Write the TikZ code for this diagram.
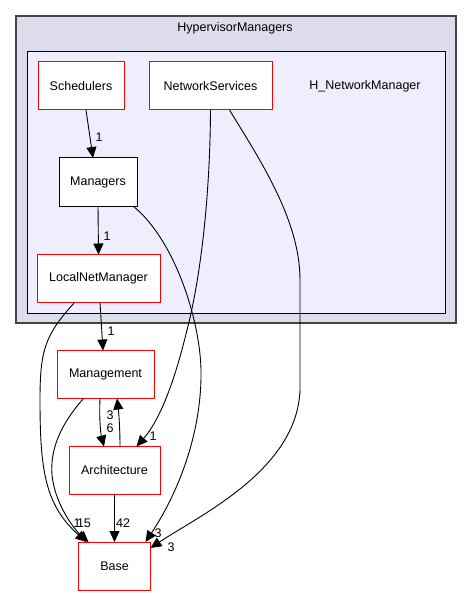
\documentclass[tikz,border=0pt]{standalone}
\usepackage{fontspec}
\setmainfont{Liberation Sans}
\usetikzlibrary{arrows.meta}
\definecolor{outerfill}{HTML}{DDDDEE}
\definecolor{innerfill}{HTML}{EEEEFF}
\definecolor{clusterline}{HTML}{444444}
\tikzset{
    dirbox/.style = {draw=red, fill=white, line width=1pt, inner sep=0pt, outer sep=0pt,
                     minimum height=48pt, font=\fontsize{12.5}{15}\selectfont},
    plainbox/.style = {dirbox, draw=black},
    dep/.style = {-{Triangle[length=11pt,width=10pt]}, line width=0.9pt},
    deplabel/.style = {inner sep=0pt, font=\fontsize{12.5}{15}\selectfont},
}

\begin{document}
\begin{tikzpicture}[x=1pt,y=-1pt]
         \useasboundingbox (0,0) rectangle (472,596);
         % --- Clusters
         \draw[clusterline, fill=outerfill, line width=1.4pt] (16,16) rectangle (456,323);
         \draw[black, fill=innerfill, line width=1pt] (27,52) rectangle (445,313);
         \node[deplabel] (hyp) at (235,28) {HypervisorManagers};
         \node[deplabel] (hnm) at (365,86) {H\_NetworkManager};
         % --- Directories
         \node[dirbox, minimum width=86pt] (sched) at (81,86) {Schedulers};
         \node[dirbox, minimum width=123pt] (ns) at (210.5,86) {NetworkServices};
         \node[plainbox, minimum width=78pt] (mgrs) at (98,182) {Managers};
         \node[dirbox, minimum width=123pt] (lnm) at (98.5,278.5) {LocalNetManager};
         \node[dirbox, minimum width=97pt] (mgmt) at (105.5,374.5) {Management};
         \node[dirbox, minimum width=91pt] (arch) at (114.5,470.5) {Architecture};
         \node[dirbox, minimum width=72pt] (base) at (114.5,566) {Base};
         % --- Dependencies inside the cluster
         \draw[dep] ([xshift=5pt]sched.south) -- ([xshift=-5pt]mgrs.north);
         \draw[dep] (mgrs.south) -- (lnm.north);
         \draw[dep] ([xshift=1.5pt]lnm.south) -- ([xshift=-2.5pt]mgmt.north);
         % --- Dependencies leaving the cluster
         \draw[dep] ([xshift=-4pt]mgrs.south east) .. controls (175,240) and (200,320) .. (201,370)
                    .. controls (202,430) and (180,490) .. ([xshift=-5pt]base.north east);
         \draw[dep] (ns.south) .. controls (210,200) and (200,280) .. (187,330)
                    .. controls (175,380) and (160,420) .. ([xshift=22pt]arch.north);
         \draw[dep] ([xshift=19pt]ns.south) .. controls (260,160) and (300,220) .. (300,280) -- (300,390)
                    .. controls (297,470) and (200,515) .. ([yshift=-6pt]base.north east);
         \draw[dep] ([xshift=-24pt]lnm.south) .. controls (45,335) and (40,350) .. (40,400)
                    .. controls (40,470) and (45,505) .. ([xshift=-28pt]base.north);
         % --- Dependencies below
         \draw[dep] ([xshift=-22pt]mgmt.south) .. controls (60,425) and (50,450) .. (52,475)
                    .. controls (55,505) and (75,530) .. ([xshift=-26pt]base.north);
         \draw[dep] ([xshift=-5.5pt]mgmt.south) .. controls (99,420) and (101,435) .. ([xshift=-10.5pt]arch.north);
         \draw[dep] ([xshift=5.5pt]arch.north) .. controls (120,430) and (119,415) .. ([xshift=11.5pt]mgmt.south);
         \draw[dep] (arch.south) -- (base.north);
         % --- Counts
         \node[deplabel] (c1) at (99,137) {1};
         \node[deplabel] (c2) at (107,236) {1};
         \node[deplabel] (c3) at (111,331) {1};
         \node[deplabel] (c4) at (110,415) {3};
         \node[deplabel] (c5) at (110,428) {6};
         \node[deplabel] (c6) at (153,436) {1};
         \node[deplabel] (c7) at (77,523) {1};
         \node[deplabel] (c8) at (84,523) {15};
         \node[deplabel] (c9) at (123,523) {42};
         \node[deplabel] (c10) at (158,533) {3};
         \node[deplabel] (c11) at (171,547) {3};
\end{tikzpicture}
\end{document}
